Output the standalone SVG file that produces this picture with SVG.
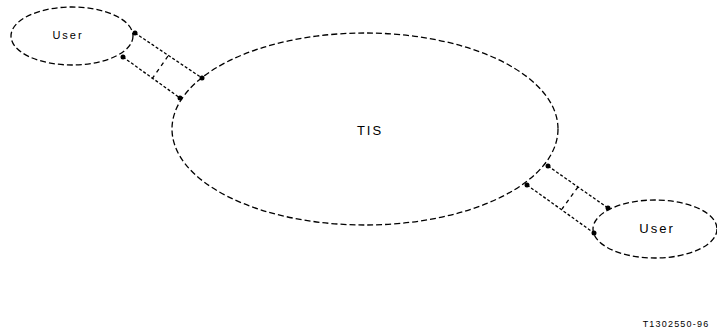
<svg xmlns="http://www.w3.org/2000/svg" width="717" height="335" viewBox="0 0 717 335">
  <style>
    .node { fill: none; stroke: #000; stroke-width: 1.3; stroke-dasharray: 6 3; }
    .link { fill: none; stroke: #000; stroke-width: 1.3; stroke-dasharray: 3 2; }
    .bar { fill: none; stroke: #000; stroke-width: 1.3; stroke-dasharray: 4 4; }
    .dot { fill: #000; }
    .lbl { font-family: "Liberation Sans", Arial, sans-serif; fill: #000; text-anchor: middle; }
  </style>
  <rect width="717" height="335" fill="#fff"/>

  <g id="tis">
    <ellipse class="node" cx="365" cy="129" rx="193" ry="96"/>
    <text class="lbl" x="370" y="135" font-size="13" letter-spacing="2">TIS</text>
  </g>

  <g id="user-left">
    <ellipse class="node" cx="72" cy="36" rx="61" ry="29"/>
    <text class="lbl" x="68" y="39" font-size="11" letter-spacing="2">User</text>
  </g>

  <g id="user-right">
    <ellipse class="node" cx="655" cy="229" rx="62" ry="29"/>
    <text class="lbl" x="657" y="233" font-size="13" letter-spacing="2">User</text>
  </g>

  <g id="connectors">
    <!-- upper-left pair -->
    <line class="link" x1="135" y1="33" x2="202" y2="78"/>
    <line class="link" x1="123" y1="57" x2="180" y2="98"/>
    <line class="bar" x1="168" y1="56" x2="152" y2="79"/>
    <circle class="dot" cx="135" cy="33" r="2.5"/>
    <circle class="dot" cx="123" cy="57" r="2.5"/>
    <circle class="dot" cx="202" cy="78" r="2.5"/>
    <circle class="dot" cx="180" cy="98" r="2.5"/>
    <!-- lower-right pair -->
    <line class="link" x1="548" y1="166" x2="608" y2="208"/>
    <line class="link" x1="527" y1="185" x2="594" y2="233"/>
    <line class="bar" x1="578" y1="187" x2="562" y2="209"/>
    <circle class="dot" cx="548" cy="166" r="2.5"/>
    <circle class="dot" cx="527" cy="185" r="2.5"/>
    <circle class="dot" cx="608" cy="208" r="2.5"/>
    <circle class="dot" cx="594" cy="233" r="2.5"/>
  </g>

  <text class="lbl" x="676" y="327" font-size="9" letter-spacing="1.2">T1302550-96</text>
</svg>
